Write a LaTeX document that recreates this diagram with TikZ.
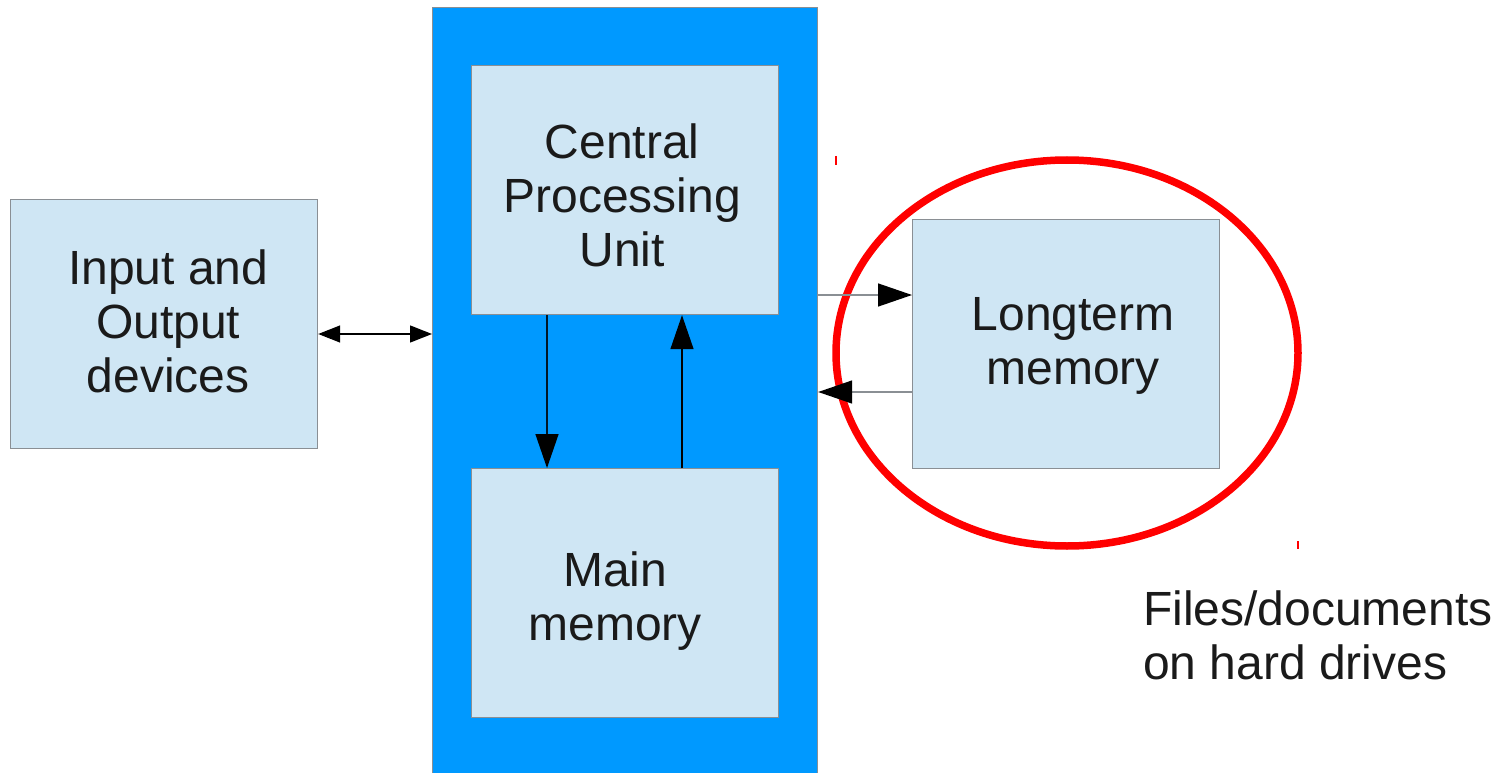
\documentclass[tikz,border=0pt]{standalone}
\usepackage{fontspec}
\setmainfont{Liberation Sans}
\usetikzlibrary{arrows.meta,shapes.geometric}
\definecolor{cpublue}{HTML}{0099FF}
\definecolor{lightbox}{HTML}{CFE6F4}
\definecolor{boxedge}{HTML}{8A8F94}
\definecolor{txt}{HTML}{1A1A1A}
\begin{document}
\begin{tikzpicture}[x=1pt,y=-1pt,
  lbox/.style={draw=boxedge,line width=1.2pt,fill=lightbox,minimum width=307pt,minimum height=249pt,inner sep=0pt},
  btext/.style={align=center,font=\fontsize{48}{54}\selectfont,text=txt,inner sep=0pt},
  bighead/.style={-{Triangle[length=34pt,width=23pt,black]}},
  conn/.style={line width=1.4pt}]
\useasboundingbox (0,0) rectangle (1505,773);
\node[draw=boxedge,line width=1.2pt,fill=cpublue,minimum width=385pt,minimum height=770pt,inner sep=0pt,anchor=north west] (outer) at (432,7) {};
\node[lbox,anchor=north west] (cpu) at (471,65) {};
\node[btext] (cpuT) at ([shift={(-3,5)}]cpu.center) {Central\\Processing\\Unit};
\node[lbox,anchor=north west] (mm) at (471,468) {};
\node[btext] (mmT) at ([shift={(-10,8)}]mm.center) {Main\\memory};
\node[lbox,anchor=north west] (io) at (10,199) {};
\node[btext] (ioT) at ([shift={(4,-3)}]io.center) {Input and\\Output\\devices};
\node[lbox,anchor=north west] (lt) at (912,219) {};
\node[btext] (ltT) at ([shift={(7,2)}]lt.center) {Longterm\\memory};
\node[draw=red,line width=7.5pt,ellipse,minimum width=462pt,minimum height=386pt,inner sep=0pt] (circ) at (1067,353) {};
\node[anchor=north west,align=left,font=\fontsize{48}{54}\selectfont,text=txt,inner sep=0pt] (files) at (1143,591) {Files/documents\\on hard drives};
% connectors
\coordinate (ioR) at (io.east |- 0,334);
\coordinate (outL) at (outer.west |- 0,334);
\draw[conn,{Triangle[length=22pt,width=17pt]}-{Triangle[length=22pt,width=17pt]}] (ioR) -- (outL);
\coordinate (oR1) at (outer.east |- 0,295);
\coordinate (lL1) at (lt.west |- 0,295);
\draw[conn,draw=boxedge,bighead] (oR1) -- (lL1);
\coordinate (lL2) at (lt.west |- 0,392);
\coordinate (oR2) at (outer.east |- 0,392);
\draw[conn,draw=boxedge,bighead] (lL2) -- (oR2);
\coordinate (c1) at (547,0);
\draw[conn,draw=black!85!cpublue,bighead] (cpu.south -| c1) -- (mm.north -| c1);
\coordinate (c2) at (682,0);
\draw[conn,bighead] (mm.north -| c2) -- (cpu.south -| c2);
% small handle marks
\coordinate (m1a) at (836,156); \coordinate (m1b) at (836,165);
\draw[red,line width=1.5pt] (m1a) -- (m1b);
\coordinate (m2a) at (1298,541); \coordinate (m2b) at (1298,549);
\draw[red,line width=1.5pt] (m2a) -- (m2b);
\end{tikzpicture}
\end{document}
